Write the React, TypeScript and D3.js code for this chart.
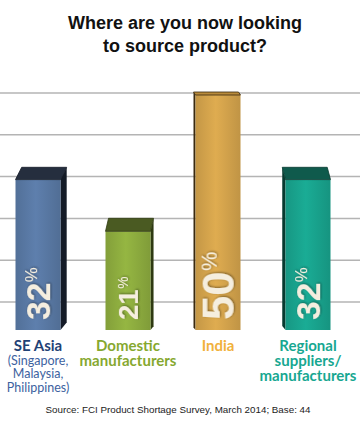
import { useEffect, useRef } from "react";
import * as d3 from "d3";

const titleLines = ["Where are you now looking", "to source product?"];
const categories = ["SE Asia", "Domestic", "India", "Regional"];
const values = [32, 21, 50, 32];
const labelLines = [["SE Asia"], ["Domestic", "manufacturers"], ["India"], ["Regional", "suppliers/", "manufacturers"]];
const subLines = [["(Singapore,", "Malaysia,", "Philippines)"], [], [], []];
const gridLevels = [0, 1, 2, 3, 4, 5];
const source = "Source: FCI Product Shortage Survey, March 2014; Base: 44";

// front / cap / side colours per bar
const fronts = ["#5a7aa6", "#8fae3f", "#d6a54d", "#19a58f"];
const caps = ["#252e3e", "#4a5a22", "#b88a3a", "#0f5a4c"];
const sides = ["#141b27", "#2e3a12", "#3a2a10", "#073a30"];
const labelColors = ["#1f4275", "#86a82f", "#f1b13b", "#17a791"];
const subColor = "#3d62a0";

export default function App() {
  const svgRef = useRef<SVGSVGElement>(null);
  const width = 360;
  const height = 425;

  useEffect(() => {
    if (!svgRef.current) return;
    const svg = d3.select(svgRef.current);
    svg.selectAll("*").remove();

    const defs = svg.append("defs");
    defs
      .append("filter")
      .attr("id", "shadow")
      .append("feDropShadow")
      .attr("dx", 0.8)
      .attr("dy", 0.8)
      .attr("stdDeviation", 0.8)
      .attr("flood-color", "#000")
      .attr("flood-opacity", 0.45);

    fronts.forEach((c, i) => {
      const g = defs
        .append("linearGradient")
        .attr("id", `front${i}`)
        .attr("x1", 0)
        .attr("x2", 1)
        .attr("y1", 0)
        .attr("y2", 0);
      const base = d3.color(c)!;
      g.append("stop").attr("offset", 0).attr("stop-color", base.darker(0.25).toString());
      g.append("stop").attr("offset", 0.45).attr("stop-color", base.brighter(0.12).toString());
      g.append("stop").attr("offset", 1).attr("stop-color", base.darker(0.3).toString());
    });

    // Title
    const title = svg
      .append("text")
      .attr("text-anchor", "middle")
      .attr("font-family", "'Liberation Sans', Arial, sans-serif")
      .attr("font-weight", "bold")
      .attr("font-size", 18)
      .attr("fill", "#111");
    titleLines.forEach((line, i) => {
      title
        .append("tspan")
        .attr("x", 185)
        .attr("y", 29 + i * 23)
        .text(line);
    });

    // Grid lines
    const gridY = d3.scaleLinear().domain([0, 5]).range([302, 93]);
    svg
      .append("g")
      .selectAll("line")
      .data(gridLevels)
      .enter()
      .append("line")
      .attr("x1", 0)
      .attr("x2", width)
      .attr("y1", (d) => gridY(d))
      .attr("y2", (d) => gridY(d))
      .attr("stroke", "#b4b4b4")
      .attr("stroke-width", 1.5);

    const x = d3
      .scaleBand<string>()
      .domain(categories)
      .range([-7, 353])
      .paddingInner(0.5)
      .paddingOuter(0.25);
    const y = d3.scaleLinear().domain([0, 50]).range([330, 95]);
    const bottom = y(0);

    const bars = svg
      .append("g")
      .selectAll("g")
      .data(values)
      .enter()
      .append("g");

    bars.each(function (v, i) {
      const g = d3.select(this);
      const fx = x(categories[i])!;
      const fw = x.bandwidth();
      const ft = y(v);
      const cx = fx + fw / 2;
      let s = (215 - cx) * 0.035;
      s = Math.sign(s) * Math.max(2, Math.abs(s));
      const cap = Math.max(3, Math.min(13, (ft - 85) * 0.13));
      const sx = s > 0 ? fx + fw : fx;

      // side
      g.append("path")
        .attr(
          "d",
          `M${sx},${ft} L${sx + s},${ft - cap} L${sx + s},${bottom - Math.abs(s) * 1.2} L${sx},${bottom} Z`
        )
        .attr("fill", sides[i]);
      // front
      g.append("rect")
        .attr("x", fx)
        .attr("y", ft)
        .attr("width", fw)
        .attr("height", bottom - ft)
        .attr("fill", `url(#front${i})`);
      // top cap
      g.append("path")
        .attr(
          "d",
          `M${fx},${ft} L${fx + s},${ft - cap} L${fx + fw + s},${ft - cap} L${fx + fw},${ft} Z`
        )
        .attr("fill", caps[i])
        .attr("stroke", sides[i])
        .attr("stroke-width", 0.8)
        .attr("stroke-linejoin", "round");

      // value label, rotated
      const fs = 16 + v * 0.55;
      const t = g
        .append("text")
        .attr("transform", `translate(${cx + fs * 0.36},${bottom - 10}) rotate(-90)`)
        .attr("font-family", "'Liberation Sans', Arial, sans-serif")
        .attr("font-weight", "bold")
        .attr("font-size", fs)
        .attr("fill", "#f5eedf")
        .attr("filter", "url(#shadow)");
      t.append("tspan").text(String(v));
      t.append("tspan")
        .attr("font-size", fs * 0.5)
        .attr("font-weight", "normal")
        .attr("dx", 0.5)
        .attr("dy", -fs * 0.38)
        .text("%");
    });

    // Category labels: one text per category, lines as tspans
    const labels = svg.append("g").attr("font-family", "Lato, 'Open Sans', sans-serif");
    categories.forEach((c, i) => {
      const cx = x(c)! + x.bandwidth() / 2;
      const t = labels
        .append("text")
        .attr("text-anchor", "middle")
        .attr("font-weight", "bold")
        .attr("font-size", 15)
        .attr("fill", labelColors[i]);
      labelLines[i].forEach((line, j) => {
        t.append("tspan")
          .attr("x", cx)
          .attr("y", 351 + j * 15.2)
          .text(line);
      });
      subLines[i].forEach((line, j) => {
        t.append("tspan")
          .attr("x", cx)
          .attr("y", 364.5 + j * 13.5)
          .attr("font-weight", "normal")
          .attr("font-size", 12.5)
          .attr("fill", subColor)
          .text(line);
      });
    });

    // Source
    svg
      .append("text")
      .attr("x", 178)
      .attr("y", 413)
      .attr("text-anchor", "middle")
      .attr("font-family", "'Liberation Sans', Arial, sans-serif")
      .attr("font-size", 9.8)
      .attr("fill", "#222")
      .text(source);
  }, []);

  return (
    <svg
      ref={svgRef}
      width={width}
      height={height}
      style={{ position: "absolute", left: 0, top: 0, background: "#fff", display: "block" }}
    />
  );
}
